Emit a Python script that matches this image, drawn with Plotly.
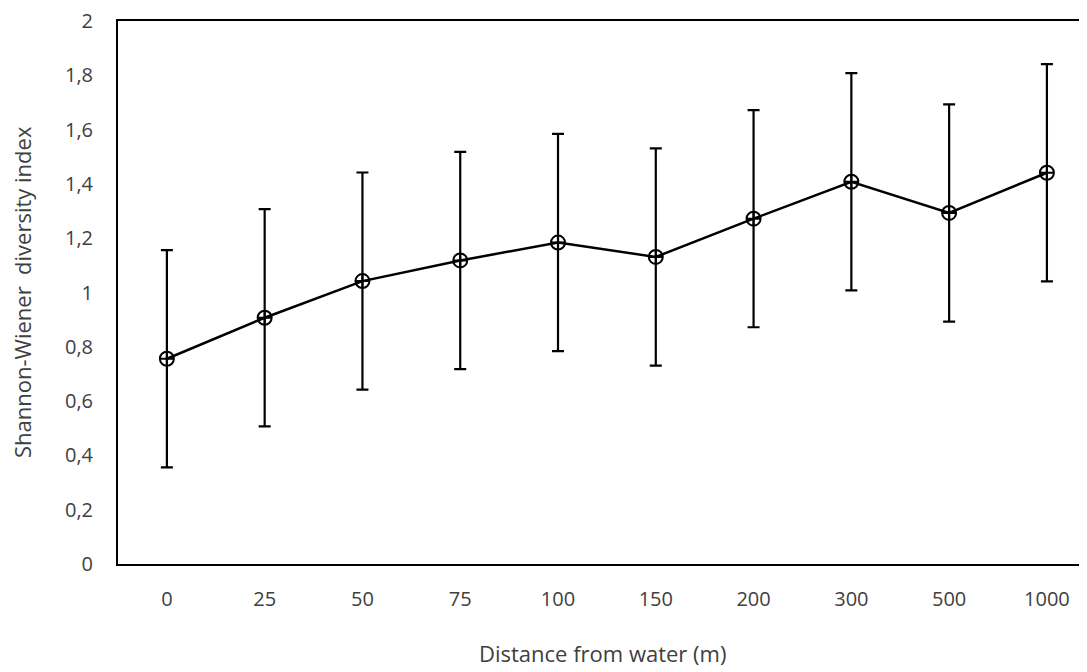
import plotly.graph_objs as go

# values
distances = ["0", "25", "50", "75", "100", "150", "200", "300", "500", "1000"]
diversity = [0.756, 0.907, 1.042, 1.118, 1.184, 1.131, 1.272, 1.408, 1.293, 1.441]
errors = [0.40, 0.40, 0.40, 0.40, 0.40, 0.40, 0.40, 0.40, 0.40, 0.40]
y_ticks = [0, 0.2, 0.4, 0.6, 0.8, 1, 1.2, 1.4, 1.6, 1.8, 2]

font_name = "Open Sans"
grey = "#404040"

# the page body has an 8px margin, so the figure is sized/offset for it
fig = go.Figure()
fig.add_trace(go.Scatter(
    x=distances,
    y=diversity,
    mode="lines+markers",
    line=dict(color="black", width=2.5),
    marker=dict(symbol="circle-cross-open", size=14, color="black",
                line=dict(color="black", width=2)),
    error_y=dict(type="data", array=errors, visible=True,
                 color="black", thickness=2.2, width=6),
    showlegend=False,
))

fig.update_layout(
    width=1079,
    height=664,
    margin=dict(l=110, r=0, t=13, b=108),
    paper_bgcolor="white",
    plot_bgcolor="white",
    separators=", ",
    font=dict(family=font_name, size=20, color=grey),
    xaxis=dict(
        type="category",
        range=[-0.5, 9.41],
        showline=True, linecolor="black", linewidth=2, mirror=True,
        showgrid=False, zeroline=False, ticks="",
        ticklabelstandoff=16,
        tickfont=dict(family=font_name, size=20, color=grey),
    ),
    yaxis=dict(
        range=[0, 2],
        tickvals=y_ticks,
        showline=True, linecolor="black", linewidth=2, mirror=False,
        showgrid=False, zeroline=False, ticks="",
        ticklabelstandoff=19,
        ticklabeloverflow="allow",
        tickfont=dict(family=font_name, size=20, color=grey),
    ),
    annotations=[
        dict(text="Distance from water (m)", xref="paper", yref="paper",
             x=(602 - 118) / 969, y=-(653 - 564) / 543, showarrow=False,
             xanchor="center", yanchor="middle",
             font=dict(family=font_name, size=22, color=grey)),
        dict(text="Shannon-Wiener  diversity index", xref="paper", yref="paper",
             x=-(118 - 22) / 969, y=(564 - 292) / 543, showarrow=False,
             textangle=-90, xanchor="center", yanchor="middle",
             font=dict(family=font_name, size=22, color=grey)),
    ],
)

fig.write_html("out.html")
